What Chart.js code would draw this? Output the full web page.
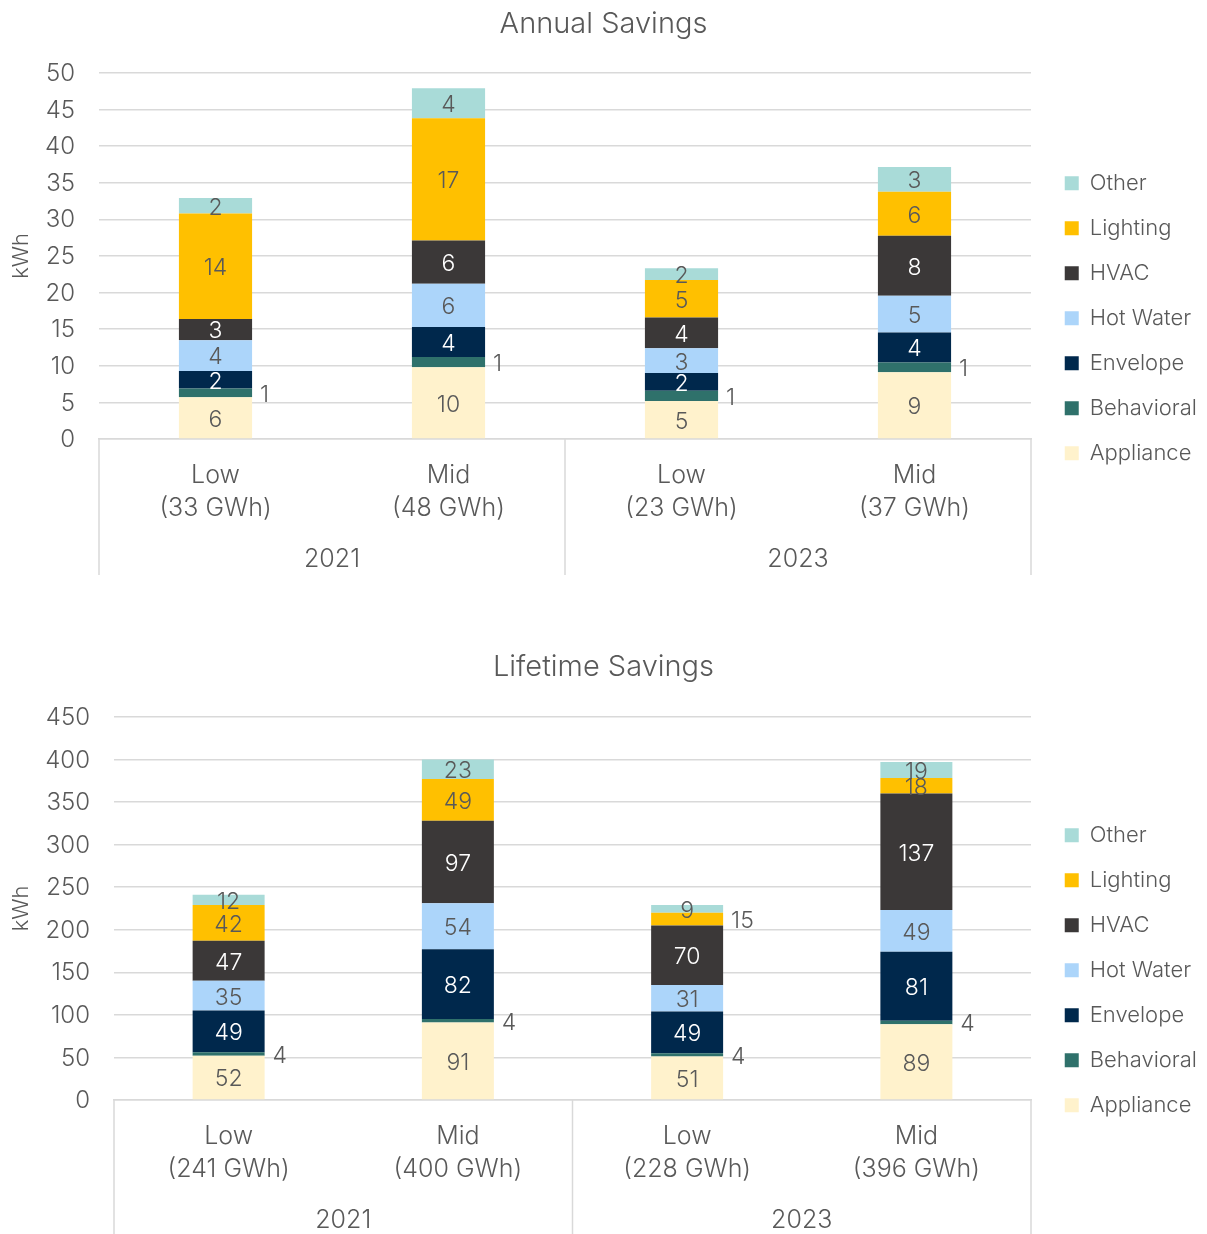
<!DOCTYPE html>
<html>
<head>
<meta charset="utf-8">
<script src="https://cdn.jsdelivr.net/npm/chart.js@4.4.0/dist/chart.umd.min.js"></script>
<style>
  html, body { margin: 0; padding: 0; background: #fff; }
  body { width: 1207px; height: 1234px; overflow: hidden; position: relative; }
  .box { position: absolute; left: 0; width: 1207px; }
  #annualBox { top: 0; height: 600px; }
  #lifetimeBox { top: 643px; height: 591px; }
</style>
</head>
<body>
<div class="box" id="annualBox"><canvas id="annualChart"></canvas></div>
<div class="box" id="lifetimeBox"><canvas id="lifetimeChart"></canvas></div>
<script>
// categories and groups
const years = ['2021', '2023'];
const annualCategories = [['Low', '(33 GWh)'], ['Mid', '(48 GWh)'], ['Low', '(23 GWh)'], ['Mid', '(37 GWh)']];
const lifetimeCategories = [['Low', '(241 GWh)'], ['Mid', '(400 GWh)'], ['Low', '(228 GWh)'], ['Mid', '(396 GWh)']];
const seriesNames = ['Appliance', 'Behavioral', 'Envelope', 'Hot Water', 'HVAC', 'Lighting', 'Other'];

// annual savings (kWh)
const annualAppliance = [5.7, 9.8, 5.2, 9.1];
const annualBehavioral = [1.2, 1.4, 1.4, 1.35];
const annualEnvelope = [2.4, 4.1, 2.4, 4.1];
const annualHotWater = [4.2, 5.9, 3.4, 5.0];
const annualHVAC = [2.9, 5.9, 4.2, 8.2];
const annualLighting = [14.4, 16.7, 5.1, 6.0];
const annualOther = [2.1, 4.1, 1.6, 3.4];

// lifetime savings (kWh)
const lifetimeAppliance = [52, 91, 51, 89];
const lifetimeBehavioral = [4, 4, 4, 4];
const lifetimeEnvelope = [49, 82, 49, 81];
const lifetimeHotWater = [35, 54, 31, 49];
const lifetimeHVAC = [47, 97, 70, 137];
const lifetimeLighting = [42, 49, 15, 18];
const lifetimeOther = [12, 23, 9, 19];

// y axis ticks
const annualMax = 50, annualStep = 5;
const lifetimeMax = 450, lifetimeStep = 50;

const colors = ['#fff2cc', '#2f716b', '#00284c', '#acd5fa', '#3b3838', '#ffc000', '#a9dbd8'];
const labelColors = ['#595959', '#595959', '#ffffff', '#595959', '#ffffff', '#595959', '#595959'];
const FONT = "Inter, Roboto, sans-serif";
const GREY = '#595959';
const LINE = '#d9d9d9';

Chart.defaults.font.family = FONT;
Chart.defaults.font.weight = 300;
Chart.defaults.color = GREY;

// value labels on each segment
const segmentLabels = {
  id: 'segmentLabels',
  afterDatasetsDraw(chart, args, opts) {
    const ctx = chart.ctx;
    ctx.save();
    ctx.font = '300 23px ' + FONT;
    ctx.textBaseline = 'middle';
    chart.data.datasets.forEach((ds, i) => {
      const meta = chart.getDatasetMeta(i);
      meta.data.forEach((bar, j) => {
        const v = ds.data[j];
        const p = bar.getProps(['x', 'y', 'base', 'width'], true);
        const cy = (p.y + p.base) / 2 + 2;
        if (opts.outside(i, j)) {
          ctx.textAlign = 'left';
          ctx.fillStyle = GREY;
          ctx.fillText(String(Math.round(v)), p.x + p.width / 2 + 8, cy);
        } else {
          ctx.textAlign = 'center';
          ctx.fillStyle = labelColors[i];
          ctx.fillText(String(Math.round(v)), p.x, cy);
        }
      });
    });
    ctx.restore();
  }
};

// second level of the category axis: year groups with separator lines
const yearGroups = {
  id: 'yearGroups',
  afterDraw(chart, args, opts) {
    const x = chart.scales.x;
    const ctx = chart.ctx;
    const n = chart.data.labels.length;
    const w = (x.right - x.left) / n;
    const per = n / years.length;
    ctx.save();
    ctx.strokeStyle = LINE;
    ctx.lineWidth = 1.5;
    for (let g = 0; g <= years.length; g++) {
      const px = g === years.length ? x.right : x.getPixelForValue(g * per) - w / 2;
      ctx.beginPath();
      ctx.moveTo(px, x.top);
      ctx.lineTo(px, x.top + opts.lineLength);
      ctx.stroke();
    }
    ctx.font = '300 25px ' + FONT;
    ctx.fillStyle = GREY;
    ctx.textAlign = 'center';
    ctx.textBaseline = 'middle';
    years.forEach((yr, g) => {
      const a = x.getPixelForValue(g * per) - w / 2;
      const b = x.getPixelForValue(g * per + per - 1) + w / 2;
      ctx.fillText(yr, (a + b) / 2, x.top + 120);
    });
    ctx.restore();
  }
};

function makeChart(id, title, labels, series, yMax, yStep, axisWidth, titleGap, padBottom, outside) {
  const datasets = series.map((d, i) => ({
    label: seriesNames[i],
    data: d,
    backgroundColor: colors[i],
    borderWidth: 0,
    barPercentage: 0.314,
    categoryPercentage: 1.0
  }));
  return new Chart(document.getElementById(id), {
    type: 'bar',
    data: { labels: labels, datasets: datasets },
    options: {
      responsive: true,
      maintainAspectRatio: false,
      animation: false,
      layout: { padding: { bottom: padBottom } },
      plugins: {
        title: {
          display: true,
          text: title,
          color: GREY,
          font: { size: 29, weight: 300 },
          padding: { top: 7, bottom: titleGap }
        },
        legend: {
          position: 'right',
          reverse: true,
          title: { display: true, text: ' ', padding: { top: 62, bottom: 0 }, font: { size: 12 } },
          labels: {
            color: GREY,
            font: { size: 22, weight: 300 },
            boxWidth: 14,
            boxHeight: 14,
            padding: 23
          }
        },
        tooltip: { enabled: false },
        segmentLabels: { outside: outside },
        yearGroups: { lineLength: 136 }
      },
      scales: {
        x: {
          stacked: true,
          grid: { display: false, drawTicks: false },
          border: { color: LINE, width: 1.5 },
          ticks: { color: GREY, font: { size: 25, weight: 300, lineHeight: 1.32 }, padding: 20, maxRotation: 0 },
          afterFit: s => { s.height = 121; }
        },
        y: {
          stacked: true,
          min: 0,
          max: yMax,
          grid: { color: LINE, lineWidth: 1.5, drawTicks: false },
          border: { display: false },
          ticks: { stepSize: yStep, color: GREY, font: { size: 24, weight: 300 }, padding: 24, labelOffset: 1 },
          title: { display: true, text: 'kWh', color: GREY, font: { size: 22, weight: 300 }, padding: { top: 8, bottom: 0 } },
          afterFit: s => { s.width = axisWidth; }
        },
        spacer: {
          type: 'linear',
          position: 'right',
          display: true,
          grid: { display: false, drawTicks: false },
          border: { display: false },
          ticks: { display: false },
          afterFit: s => { s.width = Math.max(0, 1207 - 1031 - s.chart.legend.width); }
        }
      }
    },
    plugins: [segmentLabels, yearGroups]
  });
}

makeChart('annualChart', 'Annual Savings', annualCategories,
  [annualAppliance, annualBehavioral, annualEnvelope, annualHotWater, annualHVAC, annualLighting, annualOther],
  annualMax, annualStep, 99, 31, 40,
  (i, j) => i === 1);

makeChart('lifetimeChart', 'Lifetime Savings', lifetimeCategories,
  [lifetimeAppliance, lifetimeBehavioral, lifetimeEnvelope, lifetimeHotWater, lifetimeHVAC, lifetimeLighting, lifetimeOther],
  lifetimeMax, lifetimeStep, 114, 32, 13,
  (i, j) => i === 1 || (i === 5 && j === 2));
</script>
</body>
</html>
